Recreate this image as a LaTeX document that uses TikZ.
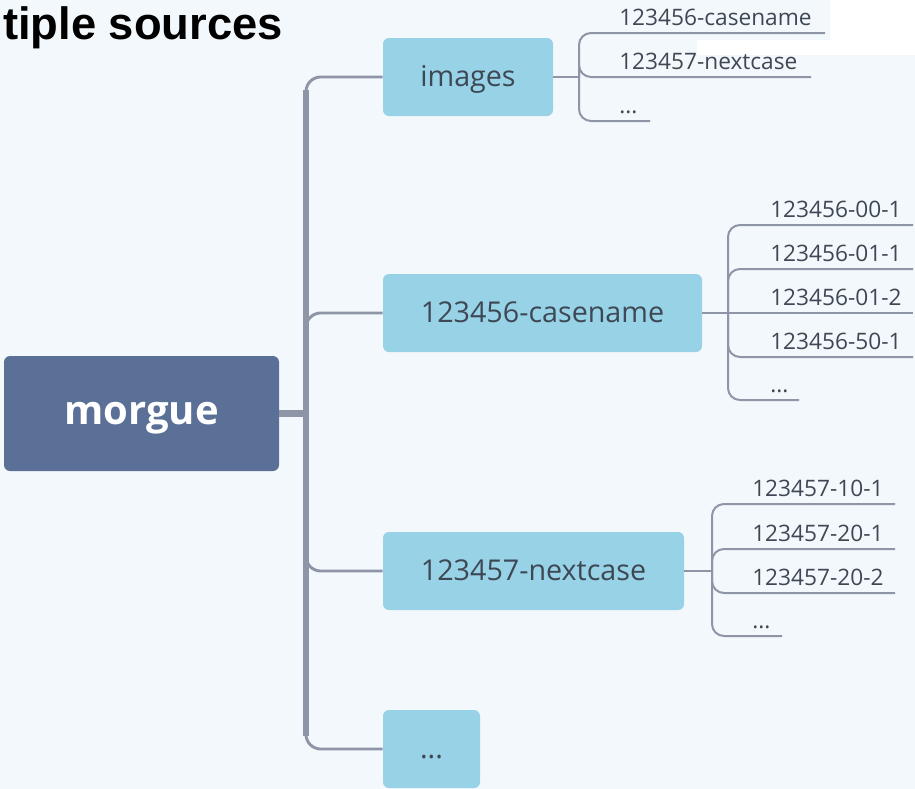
\documentclass[tikz,border=0pt]{standalone}
\usepackage{fontspec}
\setmainfont{Open Sans}
\newfontfamily\titlefont{Liberation Sans}
\usetikzlibrary{calc}

\definecolor{canvas}{RGB}{243,248,252}
\definecolor{rootfill}{RGB}{91,112,151}
\definecolor{topicfill}{RGB}{151,210,230}
\definecolor{inkdark}{RGB}{62,72,84}
\definecolor{branchline}{RGB}{142,149,166}

\tikzset{
  px/.style={x=0.75pt,y=-0.75pt},
  rootbox/.style={draw=none, fill=rootfill, rounded corners=4.5pt, text=white,
    font=\fontsize{30}{30}\selectfont\bfseries, minimum width=206.25pt, minimum height=86.25pt,
    text height=1.72em, text depth=0em, inner sep=0pt},
  topic/.style={draw=none, fill=topicfill, rounded corners=4.5pt, text=inkdark,
    font=\fontsize{21.5}{21.5}\selectfont, minimum height=58.5pt,
    text height=1.4em, text depth=0em, inner sep=0pt},
  leaf/.style={anchor=base west, text=inkdark, font=\fontsize{17}{17}\selectfont, inner sep=0pt},
  trunk/.style={draw=branchline, line width=4.6pt},
  branch/.style={draw=branchline, line width=2.2pt, rounded corners=11pt},
  twig/.style={draw=branchline, line width=1.5pt, rounded corners=9pt},
}

\begin{document}
\begin{tikzpicture}[px]
  % canvas
  \fill[canvas] (0,0) rectangle (915,789);
  \fill[white] (830,0) rectangle (915,40);
  \fill[white] (697,40) rectangle (915,55);
  \useasboundingbox (0,0) rectangle (915,789);

  % heading fragment
  \node[anchor=base east, inner sep=0pt, font=\titlefont\fontsize{34}{34}\selectfont\bfseries]
    (heading) at (283,39) {tiple sources};

  % root and main topics
  \node[rootbox] (morgue) at (141.5,413.5) {morgue};
  \node[topic, minimum width=127.5pt]  (images)   at (468,77)    {images};
  \node[topic, minimum width=239.25pt] (casename) at (542.5,313) {123456-casename};
  \node[topic, minimum width=225.75pt] (nextcase) at (533.5,571) {123457-nextcase};
  \node[topic, minimum width=72.75pt]  (more)     at (431.5,749) {...};

  % main branches
  \coordinate (hub) at (306,413.5);
  \draw[trunk] (morgue.east) -- (hub);
  \draw[trunk] (306,90) -- (306,736);
  \draw[branch] (hub) |- (images.west);
  \draw[branch] (hub) |- (casename.west);
  \draw[branch] (hub) |- (nextcase.west);
  \draw[branch] (hub) |- (more.west);

  % leaves of images
  \coordinate (jI) at (579,77);
  \draw[twig] (images.east) -- (jI);
  \node[leaf] (i1) at (619,25.5)  {123456-casename};
  \node[leaf] (i2) at (619,69.5)  {123457-nextcase};
  \node[leaf] (i3) at (619,113.5) {...};
  \coordinate (i1e) at (825,33);
  \coordinate (i2e) at (811,77);
  \coordinate (i3e) at (650,121);
  \draw[twig] (jI) |- (i1e);
  \draw[twig] (jI) |- (i2e);
  \draw[twig] (jI) |- (i3e);

  % leaves of 123456-casename
  \coordinate (jC) at (728,313);
  \draw[twig] (casename.east) -- (jC);
  \node[leaf] (c1) at (770,217) {123456-00-1};
  \node[leaf] (c2) at (770,261) {123456-01-1};
  \node[leaf] (c3) at (770,305) {123456-01-2};
  \node[leaf] (c4) at (770,349) {123456-50-1};
  \node[leaf] (c5) at (770,392) {...};
  \coordinate (c1e) at (913,225);
  \coordinate (c2e) at (913,269);
  \coordinate (c3e) at (913,313);
  \coordinate (c4e) at (913,357);
  \coordinate (c5e) at (799,400);
  \draw[twig] (jC) |- (c1e);
  \draw[twig] (jC) |- (c2e);
  \draw[twig] (jC) -- (c3e);
  \draw[twig] (jC) |- (c4e);
  \draw[twig] (jC) |- (c5e);

  % leaves of 123457-nextcase
  \coordinate (jN) at (712,571);
  \draw[twig] (nextcase.east) -- (jN);
  \node[leaf] (n1) at (752,496) {123457-10-1};
  \node[leaf] (n2) at (752,541) {123457-20-1};
  \node[leaf] (n3) at (752,585) {123457-20-2};
  \node[leaf] (n4) at (752,628) {...};
  \coordinate (n1e) at (895,504);
  \coordinate (n2e) at (895,549);
  \coordinate (n3e) at (895,593);
  \coordinate (n4e) at (782,636);
  \draw[twig] (jN) |- (n1e);
  \draw[twig] (jN) |- (n2e);
  \draw[twig] (jN) |- (n3e);
  \draw[twig] (jN) |- (n4e);
\end{tikzpicture}
\end{document}
